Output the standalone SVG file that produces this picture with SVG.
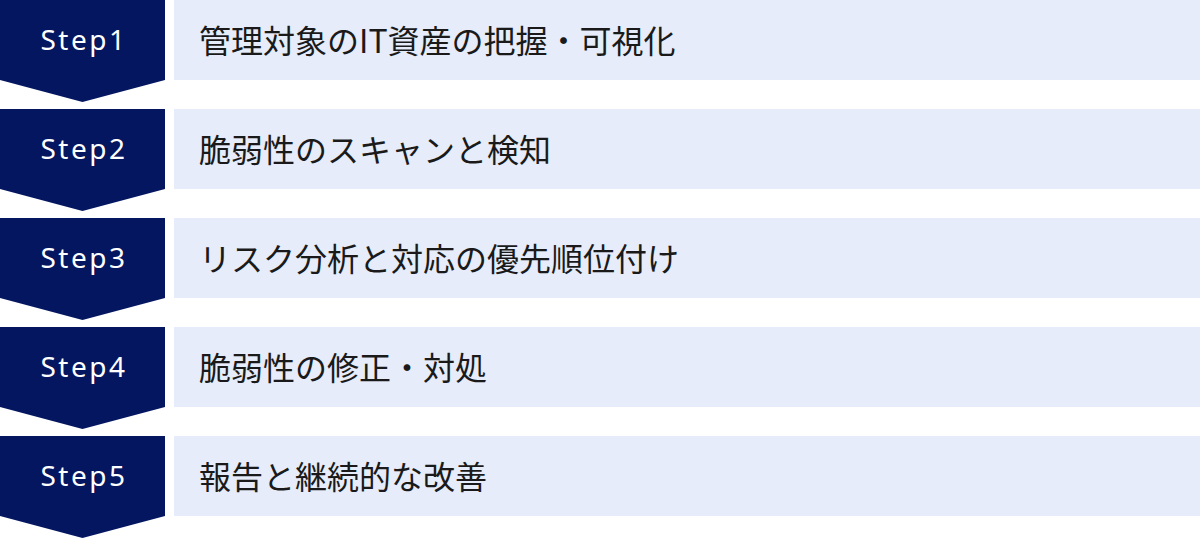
<svg xmlns="http://www.w3.org/2000/svg" width="1200" height="538" viewBox="0 0 1200 538">
<style>
.badge{fill:#041660;}
.bar{fill:#E6ECF9;}
.step{font-family:"Noto Sans","Noto Sans CJK JP",sans-serif;font-size:28px;fill:#FFFFFF;text-anchor:middle;letter-spacing:2.5px;}
.label{font-family:"Noto Sans CJK JP","Noto Sans",sans-serif;font-size:32px;fill:#1A1A1A;}
</style>
<rect width="1200" height="538" fill="#FFFFFF"/>
<g id="connectors"></g>
<g id="step1">
<polygon class="badge" points="0,0 165,0 165,80 82.5,102 0,80"/>
<rect class="bar" x="174" y="0" width="1026" height="80"/>
<text class="step" x="84" y="50">Step1</text>
<text class="label" x="199" y="53">管理対象のIT資産の把握・可視化</text>
</g>
<g id="step2">
<polygon class="badge" points="0,109 165,109 165,189 82.5,211 0,189"/>
<rect class="bar" x="174" y="109" width="1026" height="80"/>
<text class="step" x="84" y="159">Step2</text>
<text class="label" x="199" y="162">脆弱性のスキャンと検知</text>
</g>
<g id="step3">
<polygon class="badge" points="0,218 165,218 165,298 82.5,320 0,298"/>
<rect class="bar" x="174" y="218" width="1026" height="80"/>
<text class="step" x="84" y="268">Step3</text>
<text class="label" x="199" y="271">リスク分析と対応の優先順位付け</text>
</g>
<g id="step4">
<polygon class="badge" points="0,327 165,327 165,407 82.5,429 0,407"/>
<rect class="bar" x="174" y="327" width="1026" height="80"/>
<text class="step" x="84" y="377">Step4</text>
<text class="label" x="199" y="380">脆弱性の修正・対処</text>
</g>
<g id="step5">
<polygon class="badge" points="0,436 165,436 165,516 82.5,538 0,516"/>
<rect class="bar" x="174" y="436" width="1026" height="80"/>
<text class="step" x="84" y="486">Step5</text>
<text class="label" x="199" y="489">報告と継続的な改善</text>
</g>
</svg>
